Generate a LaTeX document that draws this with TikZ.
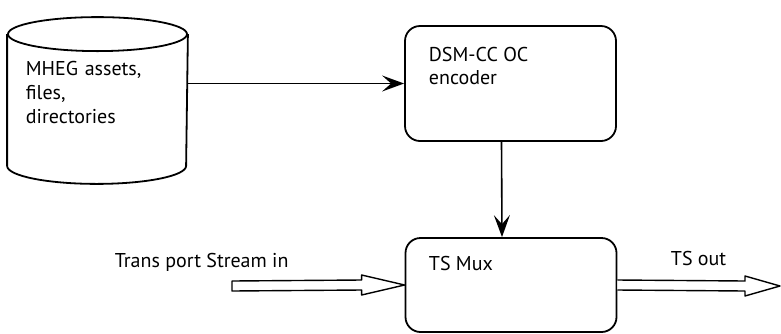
\documentclass[tikz,border=0pt]{standalone}
\usepackage{fontspec}
\setmainfont{PT Sans}
\usetikzlibrary{arrows.meta,calc}
\begin{document}
\begin{tikzpicture}[x=1pt,y=-1pt,
  line width=1.8pt, line join=round,
  txt/.style={inner sep=0pt, anchor=base west, font=\fontsize{20}{24}\selectfont},
  proc/.style={draw, rounded corners=15pt, minimum width=211pt, inner sep=0pt},
  flow/.style={line width=1.6pt, -{Stealth[length=22pt,width=16pt,inset=9pt]}},
  hollow/.style={draw, line width=1.4pt, fill=white}]
\useasboundingbox (0,0) rectangle (781,333);

% data store drawn as a cylinder
\node[minimum width=179pt, minimum height=130pt, inner sep=0pt] (db) at (97.5,100) {};
\draw (db.north west) -- (db.south west)
      arc[start angle=180, end angle=0, x radius=89.5, y radius=18] -- (db.north east);
\draw (db.north) ellipse[x radius=89.5, y radius=17];
\node[txt, align=left, anchor=north west, text width=170pt] (dbtext) at (25,60)
  {MHEG assets,\\files,\\directories};

% processing boxes
\node[proc, minimum height=115pt] (dsm) at (510.5,83.5) {};
\node[txt] (dsmtext) at (428,61) {DSM-CC OC};
\node[txt] (enctext) at (428,84) {encoder};

\node[proc, minimum height=94pt] (mux) at (511,285) {};
\node[txt] (muxtext) at (428,270) {TS Mux};

% connectors
\draw[flow] (db.east |- dsm.west) -- (dsm.west);
\draw[flow] ([xshift=-9pt]dsm.south) -- ([xshift=-9pt]mux.north);

% transport stream in / out
\coordinate (tsin) at (232,286);
\coordinate (tsend) at (781,286);
\node[txt] (intext) at (114,267) {Trans port Stream in};
\node[txt] (outtext) at (670,265) {TS out};

\draw[hollow] ($(tsin)+(0,-5)$) -- ($(mux.west)+(-43,-5)$) -- ($(mux.west)+(-43,-10)$)
  -- (mux.west) -- ($(mux.west)+(-43,10)$) -- ($(mux.west)+(-43,5)$)
  -- ($(tsin)+(0,5)$) -- cycle;
\draw[hollow] ($(mux.east)+(0,-5)$) -- ($(tsend)+(-36,-5)$) -- ($(tsend)+(-36,-10)$)
  -- ($(tsend)+(-1,0)$) -- ($(tsend)+(-36,10)$) -- ($(tsend)+(-36,5)$)
  -- ($(mux.east)+(0,5)$);
\end{tikzpicture}
\end{document}
